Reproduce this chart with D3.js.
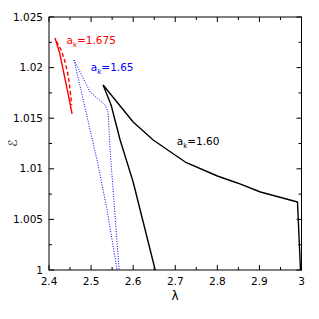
<!DOCTYPE html>
<html><head><meta charset="utf-8">
<script src="https://cdn.jsdelivr.net/npm/d3@7"></script>
<style>body{margin:0;background:#fff}svg{display:block}text{font-family:"DejaVu Sans",sans-serif}</style>
</head><body>
<script>
// Data (lambda, epsilon)
const redSolid = [[2.4143,1.02292],[2.4250,1.02150],[2.4350,1.01950],[2.4450,1.01750],[2.4548,1.01542]];
const redDashed = [[2.4175,1.02260],[2.4290,1.02174],[2.4370,1.02075],[2.4440,1.01957],[2.4485,1.01838],[2.4520,1.01709],[2.4535,1.01630]];
const blueLeft = [[2.4595,1.02075],[2.4857,1.01600],[2.5167,1.01038],[2.5380,1.00593],[2.5619,1.0]];
const blueRight = [[2.4595,1.02075],[2.4976,1.01759],[2.5333,1.01630],[2.5405,1.01561],[2.5452,1.01186],[2.5524,1.00790],[2.5595,1.00395],[2.5667,1.0]];
const blackUpper = [[2.5286,1.01828],[2.6000,1.01462],[2.6476,1.01285],[2.7238,1.01067],[2.8000,1.00929],[2.8476,1.00860],[2.9024,1.00771],[2.9905,1.00672],[2.9976,1.0]];
const blackLower = [[2.5286,1.01828],[2.5476,1.01630],[2.5690,1.01285],[2.6000,1.00870],[2.6524,1.0]];
const xTicks = [2.4,2.5,2.6,2.7,2.8,2.9,3];
const xTickLabels = ["2.4","2.5","2.6","2.7","2.8","2.9","3"];
const yTicks = [1,1.005,1.01,1.015,1.02,1.025];
const yTickLabels = ["1","1.005","1.01","1.015","1.02","1.025"];
const labels = [
  {x:2.4415,y:1.0223,sub:"k",val:"=1.675",color:"#ff0000"},
  {x:2.4995,y:1.0197,sub:"k",val:"=1.65",color:"#0000ff"},
  {x:2.7035,y:1.0124,sub:"k",val:"=1.60",color:"#000000"}
];

const W=319,H=319;
const m={l:49,r:301.5,t:17,b:270};
const svg=d3.select("body").append("svg").attr("width",W).attr("height",H);
const x=d3.scaleLinear().domain([2.4,3]).range([m.l,m.r]);
const y=d3.scaleLinear().domain([1,1.025]).range([m.b,m.t]);

const line=d3.line().x(d=>x(d[0])).y(d=>y(d[1]));
function draw(data,color,w,dash){
  svg.append("path").attr("d",line(data)).attr("fill","none").attr("stroke",color)
    .attr("stroke-width",w).attr("stroke-dasharray",dash||null).attr("stroke-linejoin","round");
}
draw(redSolid,"#ff0000",1.4);
draw(redDashed,"#ff0000",1.4,"4,2.5");
draw(blueLeft,"#0000ff",1,"1,1.5");
draw(blueRight,"#0000ff",1,"1,1.5");
draw(blackUpper,"#000",1.4);
draw(blackLower,"#000",1.4);

// frame
svg.append("rect").attr("x",m.l).attr("y",m.t).attr("width",m.r-m.l).attr("height",m.b-m.t)
  .attr("fill","none").attr("stroke","#000").attr("stroke-width",1);

const xMinor=d3.range(2.45,3,0.1);
const yMinor=d3.range(1.0025,1.025,0.005);
const ticks=svg.append("g").attr("stroke","#000").attr("stroke-width",1);
xTicks.forEach(v=>{ticks.append("line").attr("x1",x(v)).attr("x2",x(v)).attr("y1",m.b).attr("y2",m.b-5);
  ticks.append("line").attr("x1",x(v)).attr("x2",x(v)).attr("y1",m.t).attr("y2",m.t+5);});
xMinor.forEach(v=>{ticks.append("line").attr("x1",x(v)).attr("x2",x(v)).attr("y1",m.b).attr("y2",m.b-3);
  ticks.append("line").attr("x1",x(v)).attr("x2",x(v)).attr("y1",m.t).attr("y2",m.t+3);});
yTicks.forEach(v=>{ticks.append("line").attr("y1",y(v)).attr("y2",y(v)).attr("x1",m.l).attr("x2",m.l+5);
  ticks.append("line").attr("y1",y(v)).attr("y2",y(v)).attr("x1",m.r).attr("x2",m.r-5);});
yMinor.forEach(v=>{ticks.append("line").attr("y1",y(v)).attr("y2",y(v)).attr("x1",m.l).attr("x2",m.l+3);
  ticks.append("line").attr("y1",y(v)).attr("y2",y(v)).attr("x1",m.r).attr("x2",m.r-3);});

xTicks.forEach((v,i)=>svg.append("text").attr("x",x(v)).attr("y",m.b+15).attr("text-anchor","middle")
  .attr("font-size",10.5).text(xTickLabels[i]));
yTicks.forEach((v,i)=>svg.append("text").attr("x",m.l-6).attr("y",y(v)+3.5).attr("text-anchor","end")
  .attr("font-size",10.5).text(yTickLabels[i]));

svg.append("text").attr("x",175).attr("y",300).attr("text-anchor","middle").attr("font-size",12).text("λ");
svg.append("text").attr("transform","translate(17,143) rotate(-90)").attr("text-anchor","middle")
  .attr("font-size",12).text("ℰ");

labels.forEach(l=>{
  const t=svg.append("text").attr("x",x(l.x)).attr("y",y(l.y)).attr("fill",l.color).attr("font-size",10.5);
  t.append("tspan").text("a");
  t.append("tspan").attr("dy",3).attr("font-size",7).text(l.sub);
  t.append("tspan").attr("dy",-3).text(l.val);
});
</script>
</body></html>
